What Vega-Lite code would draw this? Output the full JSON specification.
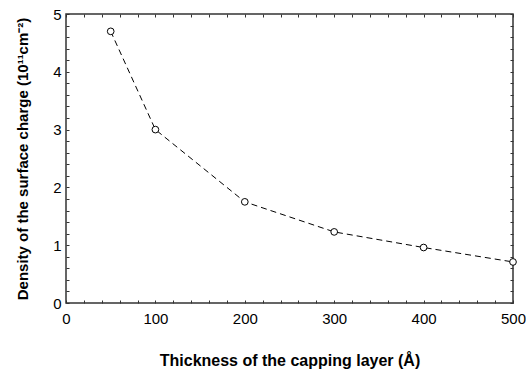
{
  "$schema": "https://vega.github.io/schema/vega-lite/v6.json",
  "autosize": "none",
  "width": 447,
  "height": 289,
  "padding": {"left": 66, "top": 14, "right": 13, "bottom": 67},
  "background": "white",
  "config": {
    "font": "Liberation Sans",
    "view": {"stroke": "#333", "strokeWidth": 1.5},
    "axis": {"grid": false, "domain": false, "tickColor": "#333", "tickSize": -3, "tickWidth": 1, "labelColor": "black", "titleColor": "black", "labelFontSize": 15, "titleFontWeight": "bold"}
  },
  "data": {"values": [
    {"t": 50, "d": 4.7},
    {"t": 100, "d": 3.0},
    {"t": 200, "d": 1.75},
    {"t": 300, "d": 1.23},
    {"t": 400, "d": 0.96},
    {"t": 500, "d": 0.71}
  ]},
  "resolve": {"axis": {"x": "independent", "y": "independent"}},
  "layer": [
    {
      "mark": {"type": "line", "color": "black", "strokeWidth": 1, "strokeDash": [6, 4]},
      "encoding": {
        "x": {"field": "t", "type": "quantitative", "scale": {"domain": [0, 500], "nice": false},
          "axis": {"orient": "bottom", "values": [0,20,40,60,80,100,120,140,160,180,200,220,240,260,280,300,320,340,360,380,400,420,440,460,480,500],
            "labelExpr": "datum.value % 100 === 0 ? format(datum.value, 'd') : ''", "labelPadding": 11, "labelFlush": false,
            "title": "Thickness of the capping layer (Å)", "titleFontSize": 16, "titlePadding": 26}},
        "y": {"field": "d", "type": "quantitative", "scale": {"domain": [0, 5], "nice": false},
          "axis": {"orient": "left", "values": [0,0.2,0.4,0.6,0.8,1,1.2,1.4,1.6,1.8,2,2.2,2.4,2.6,2.8,3,3.2,3.4,3.6,3.8,4,4.2,4.4,4.6,4.8,5],
            "labelExpr": "datum.value % 1 === 0 ? format(datum.value, 'd') : ''", "labelPadding": 8, "labelFlush": false,
            "title": "Density of the surface charge (10¹¹cm⁻²)", "titleFontSize": 15, "titlePadding": 22}}
      }
    },
    {
      "mark": {"type": "point", "shape": "circle", "filled": false, "fill": "white", "fillOpacity": 1, "stroke": "black", "strokeWidth": 1, "size": 45, "opacity": 1},
      "encoding": {
        "x": {"field": "t", "type": "quantitative", "scale": {"domain": [0, 500], "nice": false},
          "axis": {"orient": "top", "values": [0,20,40,60,80,100,120,140,160,180,200,220,240,260,280,300,320,340,360,380,400,420,440,460,480,500], "labels": false, "title": null}},
        "y": {"field": "d", "type": "quantitative", "scale": {"domain": [0, 5], "nice": false},
          "axis": {"orient": "right", "values": [0,0.2,0.4,0.6,0.8,1,1.2,1.4,1.6,1.8,2,2.2,2.4,2.6,2.8,3,3.2,3.4,3.6,3.8,4,4.2,4.4,4.6,4.8,5], "labels": false, "title": null}}
      }
    }
  ]
}
